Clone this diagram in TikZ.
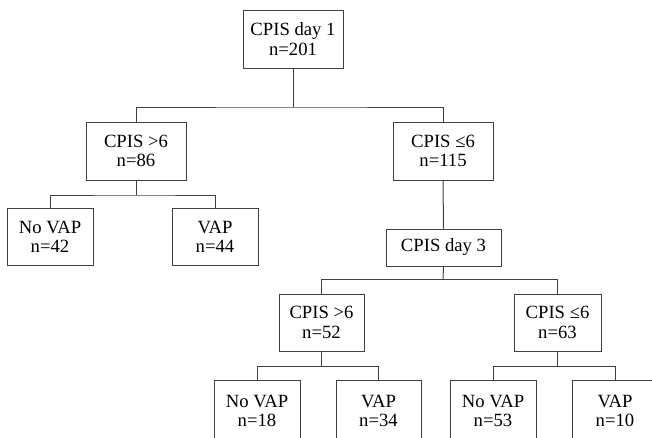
\documentclass[tikz,border=0pt]{standalone}
\usepackage{fontspec}
\setmainfont{Liberation Serif}

\begin{document}
\begin{tikzpicture}[x=0.75pt,y=-0.75pt,
    box/.style={draw=black!75,line width=0.75pt,align=center,inner sep=0pt,
      font=\fontsize{14}{14.5}\selectfont},
    link/.style={draw=black!75,line width=0.75pt}]
        \useasboundingbox (0,0) rectangle (652,437);
        \clip (0,0) rectangle (652,437);

        % top level
        \node[box,minimum width=100pt*0.75,minimum height=58pt*0.75] (day1) at (293,39) {CPIS day 1\\n=201};
        \node[box,minimum width=100pt*0.75,minimum height=58pt*0.75] (hiA) at (136,151) {CPIS >6\\n=86};
        \node[box,minimum width=100pt*0.75,minimum height=58pt*0.75] (loA) at (443,151) {CPIS ≤6\\n=115};
        \node[box,minimum width=86pt*0.75,minimum height=57pt*0.75] (noA) at (50,236.5) {No VAP\\n=42};
        \node[box,minimum width=86pt*0.75,minimum height=57pt*0.75] (vapA) at (215,236.5) {VAP\\n=44};

        % day 3
        \node[box,minimum width=115pt*0.75,minimum height=37pt*0.75] (day3) at (443.5,247.5) {CPIS day 3};
        \node[box,minimum width=85pt*0.75,minimum height=57pt*0.75] (hiB) at (321.5,322.5) {CPIS >6\\n=52};
        \node[box,minimum width=87pt*0.75,minimum height=57pt*0.75] (loB) at (557.5,322.5) {CPIS ≤6\\n=63};

        % bottom row, cut by the page edge
        \node[box,minimum width=86pt*0.75,minimum height=62pt*0.75] (noB) at (257,411) {No VAP\\n=18};
        \node[box,minimum width=85pt*0.75,minimum height=62pt*0.75] (vapB) at (378.5,411) {VAP\\n=34};
        \node[box,minimum width=86pt*0.75,minimum height=62pt*0.75] (noC) at (493,411) {No VAP\\n=53};
        \node[box,minimum width=86pt*0.75,minimum height=62pt*0.75] (vapC) at (615,411) {VAP\\n=10};

        % branch points
        \coordinate (j1) at (293,107);
        \coordinate (j2) at (136,195);
        \coordinate (j3) at (443,279);
        \coordinate (j4) at (321.5,366);
        \coordinate (j5) at (557.5,366);

        % connectors
        \draw[link] (day1.south) -- (j1);
        \draw[link] (hiA.north) |- (j1) -| (loA.north);
        \draw[link] (hiA.south) -- (j2);
        \draw[link] (noA.north) |- (j2) -| (vapA.north);
        \draw[link] (loA.south) -- (day3.north);
        \draw[link] (day3.south) -- (j3);
        \draw[link] (hiB.north) |- (j3) -| (loB.north);
        \draw[link] (hiB.south) -- (j4);
        \draw[link] (noB.north) |- (j4) -| (vapB.north);
        \draw[link] (loB.south) -- (j5);
        \draw[link] (noC.north) |- (j5) -| (vapC.north);
    \end{tikzpicture}
\end{document}
